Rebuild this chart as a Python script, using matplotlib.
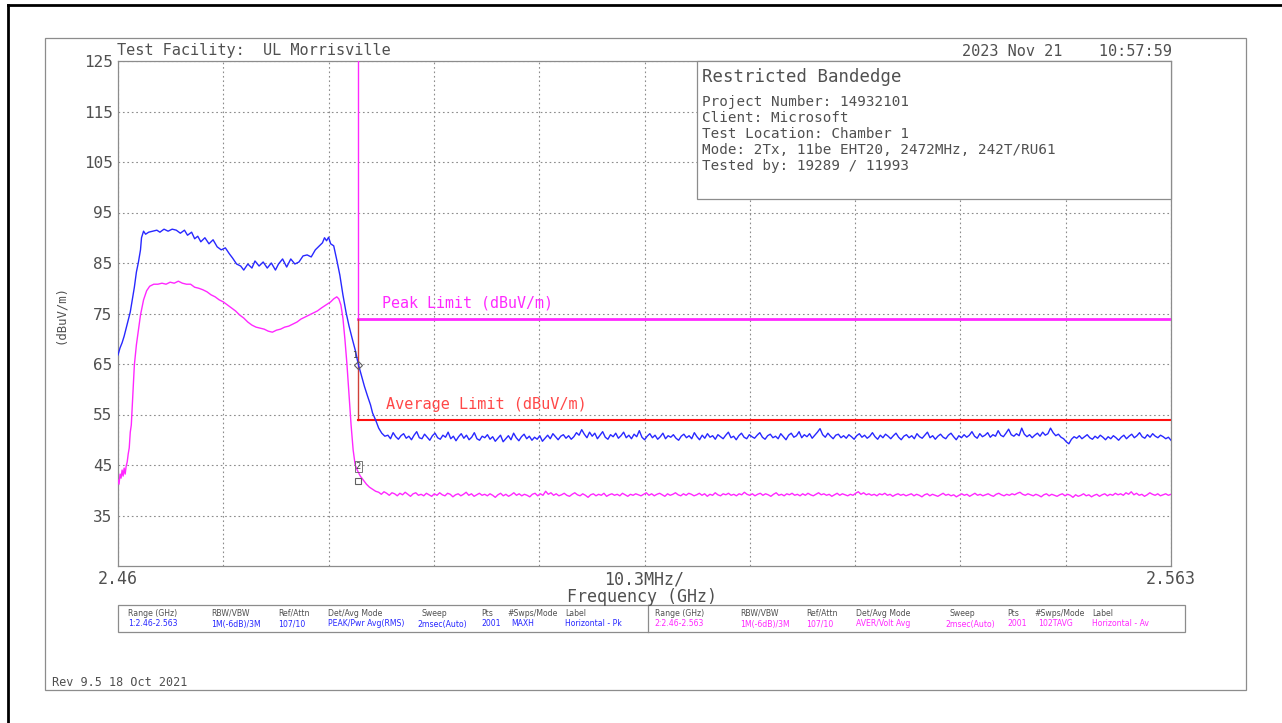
import numpy as np
import matplotlib
matplotlib.use("Agg")
import matplotlib.pyplot as plt
from matplotlib.lines import Line2D
from matplotlib.patches import Rectangle

W, H = 1282, 723
MONO = "DejaVu Sans Mono"

# ---- data ----
# peak trace (MAXH), shaped part: frequency in MHz, level in dBuV/m
pk_freq = [2460.0, 2460.2, 2460.4, 2460.6, 2460.8, 2461.0, 2461.2, 2461.4, 2461.6, 2461.8,
           2462.0, 2462.2, 2462.3, 2462.5, 2462.7, 2463.0, 2463.4, 2463.8, 2464.1, 2464.5,
           2464.9, 2465.3, 2465.7, 2466.1, 2466.5, 2466.8, 2467.2, 2467.5, 2467.8, 2468.1,
           2468.5, 2468.9, 2469.3, 2469.7, 2470.1, 2470.5, 2470.9, 2471.2, 2471.6, 2472.0,
           2472.3, 2472.7, 2473.1, 2473.4, 2473.8, 2474.2, 2474.6, 2475.0, 2475.4, 2475.7,
           2476.1, 2476.5, 2476.9, 2477.3, 2477.7, 2478.1, 2478.5, 2478.9, 2479.3, 2479.7,
           2480.0, 2480.2, 2480.4, 2480.6, 2480.8, 2481.1, 2481.4, 2481.7, 2482.0, 2482.3,
           2482.6, 2482.9, 2483.2, 2483.5, 2483.8, 2484.1, 2484.4, 2484.7, 2484.9, 2485.2,
           2485.5, 2485.8, 2486.1]
pk_level = [66.8, 68.2, 69.2, 70.5, 72.1, 73.7, 75.3, 77.7, 80.2, 83.2,
            85.2, 87.6, 90.0, 91.3, 90.7, 91.1, 91.3, 91.5, 91.1, 91.7,
            91.3, 91.7, 91.5, 90.9, 91.5, 90.5, 91.1, 89.8, 90.3, 89.2,
            90.0, 88.8, 89.6, 88.2, 87.6, 88.0, 86.8, 86.0, 84.8, 84.4,
            83.6, 84.8, 84.0, 85.4, 84.4, 85.2, 84.0, 85.0, 83.6, 84.8,
            85.8, 84.2, 85.8, 84.8, 85.2, 86.4, 86.6, 86.2, 87.6, 88.4,
            89.0, 90.0, 89.4, 90.1, 88.8, 88.4, 85.6, 82.6, 78.7, 75.3,
            72.5, 70.1, 67.8, 65.0, 62.8, 60.6, 58.7, 56.9, 55.3, 53.9,
            52.3, 51.3, 50.7]

# peak trace noise floor, 2486.4 .. 2563 MHz (even sweep points)
pk_floor_start, pk_floor_stop = 2486.4, 2563.0
pk_floor = [
    50.9, 50.2, 51.4, 50.6, 50.1, 50.8, 51.2, 50.3, 50.7, 50.0, 50.9, 51.6, 50.4, 50.2, 51.1, 50.5, 49.9, 50.8, 51.3, 50.4,
    50.1, 50.9, 50.5, 51.5, 50.2, 50.7, 49.8, 50.6, 51.2, 50.3, 50.9, 50.0, 50.5, 51.4, 50.2, 49.9, 50.7, 50.4, 51.0, 50.1,
    50.6, 49.7, 50.3, 50.9, 49.6, 50.2, 50.8, 50.0, 51.3, 50.4, 49.8, 50.6, 51.1, 50.2, 50.7, 49.9, 50.5, 50.1, 50.8, 49.7,
    50.3, 50.9, 50.2, 51.2, 50.6, 50.0, 50.7, 51.0, 50.3, 50.8, 50.1, 50.6, 51.4, 50.9, 52.0, 51.1, 50.4, 51.5, 50.7, 51.3,
    50.2, 50.9, 51.6, 50.5, 50.1, 51.0, 50.6, 51.3, 50.3, 50.8, 51.5, 50.4, 50.9, 50.2, 51.1, 50.6, 51.8, 50.5, 50.0, 50.7,
    51.2, 50.4, 50.9, 50.1, 50.6, 51.3, 50.2, 50.8, 50.5, 51.0, 50.3, 49.9, 50.7, 51.1, 50.4, 50.8, 50.2, 51.4, 50.6, 50.0,
    50.9, 50.3, 51.2, 50.5, 50.8, 50.1, 51.0, 50.6, 50.2, 50.9, 51.5, 50.4, 50.7, 50.0, 50.8, 51.3, 50.5, 50.2, 51.0, 50.6,
    50.3, 50.9, 51.4, 50.5, 50.1, 50.8, 51.1, 50.4, 50.7, 50.2, 51.2, 50.6, 50.0, 50.9, 51.3, 50.5, 50.8, 51.6, 50.4, 51.0,
    50.6, 51.2, 50.3, 50.9, 51.5, 52.2, 51.0, 50.5, 51.3, 50.7, 50.2, 50.9, 51.1, 50.4, 50.8, 50.3, 51.0, 50.6, 50.1, 50.8,
    51.2, 50.5, 50.9, 50.3, 50.7, 51.4, 50.6, 50.1, 50.9, 50.4, 51.1, 50.7, 50.2, 50.8, 51.3, 50.5, 50.0, 50.7, 51.0, 50.4,
    50.8, 50.2, 51.2, 50.6, 50.3, 50.9, 51.5, 50.4, 50.8, 50.1, 50.7, 51.1, 50.5, 50.2, 50.9, 51.3, 50.6, 50.0, 50.8, 50.4,
    51.0, 50.5, 50.9, 51.6, 50.7, 50.3, 51.2, 50.6, 50.9, 51.4, 50.5, 51.0, 50.7, 51.8, 50.9, 50.6, 51.3, 52.1, 51.0, 50.7,
    51.2, 50.8, 52.3, 51.1, 50.6, 51.0, 50.4, 50.9, 51.3, 50.7, 51.5, 50.9, 51.2, 52.3, 51.4, 50.8, 51.1, 50.5, 50.2, 49.6,
    49.2, 50.1, 50.6, 50.3, 50.8, 50.2, 50.6, 51.0, 50.4, 50.1, 50.7, 50.3, 50.9, 50.5, 50.0, 50.6, 50.2, 50.8, 50.4, 49.9,
    50.5, 50.9, 50.2, 50.7, 51.1, 50.4, 50.8, 51.4, 50.6, 50.3, 51.0, 50.5, 51.2, 50.7, 50.4, 50.9, 50.6, 50.2, 50.5, 49.9,
]

# average trace (102TAVG), shaped part
av_freq = [2460.0, 2460.1, 2460.2, 2460.3, 2460.4, 2460.5, 2460.6, 2460.7, 2460.8, 2460.9,
           2461.0, 2461.1, 2461.2, 2461.3, 2461.4, 2461.5, 2461.6, 2461.8, 2462.0, 2462.2,
           2462.5, 2462.8, 2463.1, 2463.5, 2463.9, 2464.3, 2464.7, 2465.1, 2465.5, 2465.9,
           2466.3, 2466.7, 2467.1, 2467.5, 2467.9, 2468.3, 2468.7, 2469.1, 2469.5, 2469.9,
           2470.3, 2470.7, 2471.1, 2471.5, 2471.9, 2472.3, 2472.7, 2473.1, 2473.5, 2473.9,
           2474.3, 2474.7, 2475.1, 2475.5, 2475.9, 2476.3, 2476.7, 2477.1, 2477.5, 2477.9,
           2478.3, 2478.7, 2479.1, 2479.5, 2479.9, 2480.2, 2480.5, 2480.8, 2481.1, 2481.4,
           2481.6, 2481.8, 2482.0, 2482.2, 2482.4, 2482.6, 2482.8, 2483.0, 2483.2, 2483.4,
           2483.7, 2484.0, 2484.3, 2484.6, 2484.9, 2485.2]
av_level = [42.0, 41.2, 43.2, 42.4, 44.0, 42.8, 44.4, 43.2, 44.8, 45.6,
            47.2, 48.4, 51.5, 52.9, 56.9, 60.8, 64.8, 68.8, 71.7, 74.7,
            77.7, 79.5, 80.4, 80.8, 80.8, 81.0, 80.8, 81.2, 81.0, 81.4,
            81.0, 80.8, 80.8, 80.2, 80.0, 79.7, 79.3, 78.7, 78.3, 77.7,
            77.3, 76.7, 76.1, 75.5, 74.7, 74.1, 73.3, 72.7, 72.3, 72.1,
            71.9, 71.5, 71.3, 71.7, 71.9, 72.3, 72.5, 72.9, 73.3, 73.9,
            74.3, 74.7, 75.1, 75.5, 76.1, 76.5, 76.9, 77.3, 77.9, 78.3,
            77.9, 76.7, 74.1, 69.8, 64.8, 58.9, 52.9, 48.0, 45.0, 44.0,
            42.8, 42.0, 41.2, 40.6, 40.2, 39.8]

# average trace noise floor
av_floor_start, av_floor_stop = 2485.5, 2563.0
av_floor = [
    39.6, 39.2, 39.7, 39.4, 39.0, 39.5, 39.3, 38.9, 39.4, 39.1, 39.6, 39.2, 38.8, 39.3, 39.5, 39.0, 39.2, 38.9, 39.4, 39.1,
    38.8, 39.3, 39.0, 39.5, 39.1, 38.9, 39.4, 39.2, 38.7, 39.1, 39.3, 38.9, 39.2, 39.6, 39.0, 39.3, 38.8, 39.1, 39.4, 39.0,
    39.2, 38.9, 39.3, 39.0, 38.6, 39.1, 39.4, 38.9, 39.2, 38.8, 39.1, 39.5, 39.0, 39.3, 38.9, 39.2, 39.0, 38.7, 39.2, 39.4,
    38.9, 39.3, 39.0, 39.8, 39.2, 39.5, 39.0, 39.3, 38.9, 39.1, 39.4, 39.0, 38.8, 39.2, 39.5, 39.1, 38.9, 39.3, 39.0, 38.6,
    39.1, 39.3, 38.9, 39.2, 39.0, 39.4, 38.8, 39.1, 39.3, 39.0, 39.2, 38.9, 39.4, 39.1, 38.8, 39.2, 39.0, 39.3, 39.1, 38.9,
    39.2, 39.5, 39.0, 39.3, 38.9, 39.2, 39.4, 39.1, 38.8, 39.3, 39.0, 39.2, 39.5, 39.1, 38.9, 39.3, 39.0, 39.4, 39.2, 38.9,
    39.1, 39.4, 39.0, 39.3, 38.8, 39.2, 39.0, 39.5, 39.1, 38.9, 39.3, 39.1, 39.4, 39.0, 39.2, 38.9, 39.3, 39.1, 39.6, 39.2,
    39.0, 39.3, 38.9, 39.2, 39.4, 39.0, 39.3, 39.1, 38.8, 39.2, 39.5, 39.0, 39.2, 38.9, 39.3, 39.1, 39.4, 39.0, 39.2, 38.9,
    39.3, 39.0, 39.4, 39.1, 38.9, 39.2, 39.5, 39.1, 39.3, 39.0, 39.2, 38.8, 39.1, 39.4, 39.0, 39.3, 39.1, 38.9, 39.2, 39.0,
    39.4, 39.7, 39.2, 39.5, 39.1, 39.3, 39.0, 39.2, 38.9, 39.3, 39.1, 39.4, 39.0, 39.2, 38.8, 39.1, 39.3, 39.0, 39.2, 38.9,
    39.1, 39.3, 38.9, 39.2, 39.0, 38.7, 39.1, 39.3, 38.9, 39.2, 39.0, 38.8, 39.1, 39.4, 39.0, 39.2, 38.9, 39.1, 38.7, 39.0,
    39.3, 39.0, 39.2, 38.8, 39.1, 39.4, 39.0, 39.2, 38.9, 39.1, 39.3, 39.0, 38.8, 39.2, 39.4, 39.1, 38.9, 39.2, 39.0, 39.3,
    39.1, 39.4, 39.6, 39.2, 39.0, 39.3, 39.1, 38.9, 39.2, 39.0, 38.7, 39.1, 39.3, 38.9, 39.2, 39.0, 38.8, 39.1, 39.3, 38.9,
    39.2, 39.0, 38.6, 39.1, 38.8, 39.0, 39.3, 38.9, 39.1, 38.7, 39.0, 39.2, 38.8, 39.1, 39.3, 38.9, 39.2, 39.0, 39.4, 39.1,
    39.3, 39.0, 39.5, 39.2, 39.7, 39.1, 39.4, 39.0, 39.2, 38.8, 39.1, 39.5, 39.2, 39.0, 39.3, 38.9, 39.1, 39.3, 39.0, 39.2,
]

# limits
band_edge = 2483.5
peak_limit = 74.0
avg_limit = 54.0
f_start, f_stop = 2460.0, 2563.0
y_bottom, y_top = 25, 125

# markers
mk_freq = [2483.5, 2483.5]
mk_level = [64.8, 41.8]

y_ticks = [35, 45, 55, 65, 75, 85, 95, 105, 115, 125]
x_tick_labels = ["2.46", "", "", "", "", "10.3MHz/", "", "", "", "", "2.563"]

hdr = ["Range (GHz)", "RBW/VBW", "Ref/Attn", "Det/Avg Mode", "Sweep", "Pts", "#Swps/Mode", "Label"]
row1 = ["1:2.46-2.563", "1M(-6dB)/3M", "107/10", "PEAK/Pwr Avg(RMS)", "2msec(Auto)", "2001", "MAXH", "Horizontal - Pk"]
row2 = ["2:2.46-2.563", "1M(-6dB)/3M", "107/10", "AVER/Volt Avg", "2msec(Auto)", "2001", "102TAVG", "Horizontal - Av"]

info_title = "Restricted Bandedge"
info_lines = ["Project Number: 14932101", "Client: Microsoft", "Test Location: Chamber 1",
              "Mode: 2Tx, 11be EHT20, 2472MHz, 242T/RU61", "Tested by: 19289 / 11993"]

BLUE = "#2828ff"
MAG = "#ff28ff"
RED = "#ff1010"
GRAY = "#8c8c8c"
TXT = "#505050"


def fx(x):
    return x / W


def fy(y):
    return 1 - y / H


fig = plt.figure(figsize=(W / 100, H / 100), dpi=100)
fig.patch.set_facecolor("white")

# frames around the page
fig.add_artist(Line2D([fx(8), fx(8)], [fy(5), fy(723)], color="black", lw=2, transform=fig.transFigure))
fig.add_artist(Line2D([fx(8), fx(1282)], [fy(5), fy(5)], color="black", lw=2, transform=fig.transFigure))
fig.add_artist(Rectangle((fx(45), fy(690)), fx(1246) - fx(45), fy(38) - fy(690), fill=False,
                         ec=GRAY, lw=0.9, transform=fig.transFigure))

ax = fig.add_axes([fx(118), fy(566), fx(1171) - fx(118), fy(61) - fy(566)])
ax.set_xlim(f_start, f_stop)
ax.set_ylim(y_bottom, y_top)
for s in ax.spines.values():
    s.set_color(GRAY)
    s.set_linewidth(0.9)

ax.set_xticks(np.linspace(f_start, f_stop, 11))
ax.set_xticklabels(x_tick_labels, fontfamily=MONO, fontsize=12, color=TXT)
ax.set_yticks(y_ticks)
ax.set_yticklabels([str(v) for v in y_ticks], fontfamily=MONO, fontsize=11.5, color=TXT)
ax.tick_params(length=0, pad=4)
ax.tick_params(axis="x", pad=3)
ax.grid(True, color=GRAY, lw=0.8, linestyle=(0, (1.5, 2.5)))
ax.set_axisbelow(True)

# limit lines
ax.plot([band_edge, band_edge], [y_top, peak_limit], color=MAG, lw=1.0, zorder=3)
ax.plot([band_edge, f_stop], [peak_limit, peak_limit], color=MAG, lw=2.0, zorder=3)
ax.plot([band_edge, band_edge], [peak_limit, avg_limit], color="#d04038", lw=1.0, zorder=3)
ax.plot([band_edge, f_stop], [avg_limit, avg_limit], color=RED, lw=1.5, zorder=3)

# traces
pk_ff = np.linspace(pk_floor_start, pk_floor_stop, len(pk_floor))
av_ff = np.linspace(av_floor_start, av_floor_stop, len(av_floor))
ax.plot(list(pk_freq) + list(pk_ff), list(pk_level) + list(pk_floor), color=BLUE, lw=1.0, zorder=4)
ax.plot(list(av_freq) + list(av_ff), list(av_level) + list(av_floor), color=MAG, lw=1.0, zorder=4)

# markers
ax.plot(mk_freq[0], mk_level[0], marker="D", ms=4.5, mfc="none", mec="#606060", mew=0.8, zorder=5)
ax.text(mk_freq[0] - 0.3, mk_level[0] + 1.4, "1", fontsize=6, color="#404040", ha="center", zorder=5)
ax.plot(mk_freq[1], mk_level[1], marker="s", ms=5, mfc="none", mec="#606060", mew=0.8, zorder=5)
ax.text(mk_freq[1], mk_level[1] + 2.4, "2", fontsize=6, color="#404040", ha="center", zorder=5,
        bbox=dict(boxstyle="square,pad=0.1", fc="none", ec="#606060", lw=0.6))

ax.text(2485.8, peak_limit + 2.2, "Peak Limit (dBuV/m)", fontfamily=MONO, fontsize=10.8, color=MAG, zorder=5)
ax.text(2486.2, avg_limit + 2.0, "Average Limit (dBuV/m)", fontfamily=MONO, fontsize=11, color="#ff4848", zorder=5)

# info box
fig.add_artist(Rectangle((fx(697), fy(199)), fx(1171) - fx(697), fy(61) - fy(199), fc="white",
                         ec=GRAY, lw=0.9, transform=fig.transFigure, zorder=6))
fig.text(fx(702), fy(77), info_title, fontfamily=MONO, fontsize=12.5, color=TXT, va="center", zorder=7)
for i, line in enumerate(info_lines):
    fig.text(fx(702), fy(102 + 16 * i), line, fontfamily=MONO, fontsize=10.3, color=TXT, va="center", zorder=7)

# headers around plot
fig.text(fx(117), fy(51), "Test Facility:  UL Morrisville", fontfamily=MONO, fontsize=11, color=TXT, va="center")
fig.text(fx(1172), fy(51), "2023 Nov 21    10:57:59", fontfamily=MONO, fontsize=11, color=TXT, va="center", ha="right")
fig.text(fx(642), fy(597), "Frequency (GHz)", fontfamily=MONO, fontsize=12, color=TXT, va="center", ha="center")
fig.text(fx(61), fy(315), "(dBuV/m)", fontfamily=MONO, fontsize=8.8, color=TXT, va="center", ha="center", rotation=90)
fig.text(fx(52), fy(682), "Rev 9.5 18 Oct 2021", fontfamily=MONO, fontsize=8.5, color=TXT, va="center")

# settings table
fig.add_artist(Rectangle((fx(118), fy(632)), fx(1185) - fx(118), fy(605) - fy(632), fill=False,
                         ec=GRAY, lw=0.9, transform=fig.transFigure))
fig.add_artist(Line2D([fx(648), fx(648)], [fy(605), fy(632)], color=GRAY, lw=0.9, transform=fig.transFigure))
left_hdr_x = [128, 211, 278, 328, 421, 481, 507, 565]
left_val_x = [128, 211, 278, 328, 417, 481, 511, 565]
right_hdr_x = [655, 740, 806, 856, 949, 1007, 1034, 1092]
right_val_x = [654, 740, 806, 856, 945, 1007, 1038, 1092]
for i in range(len(hdr)):
    fig.text(fx(left_hdr_x[i]), fy(613), hdr[i], fontsize=5.6, color=TXT, va="center")
    fig.text(fx(left_val_x[i]), fy(624), row1[i], fontsize=5.6, color=BLUE, va="center")
    fig.text(fx(right_hdr_x[i]), fy(613), hdr[i], fontsize=5.6, color=TXT, va="center")
    fig.text(fx(right_val_x[i]), fy(624), row2[i], fontsize=5.6, color=MAG, va="center")

fig.savefig("out.png", dpi=100)
